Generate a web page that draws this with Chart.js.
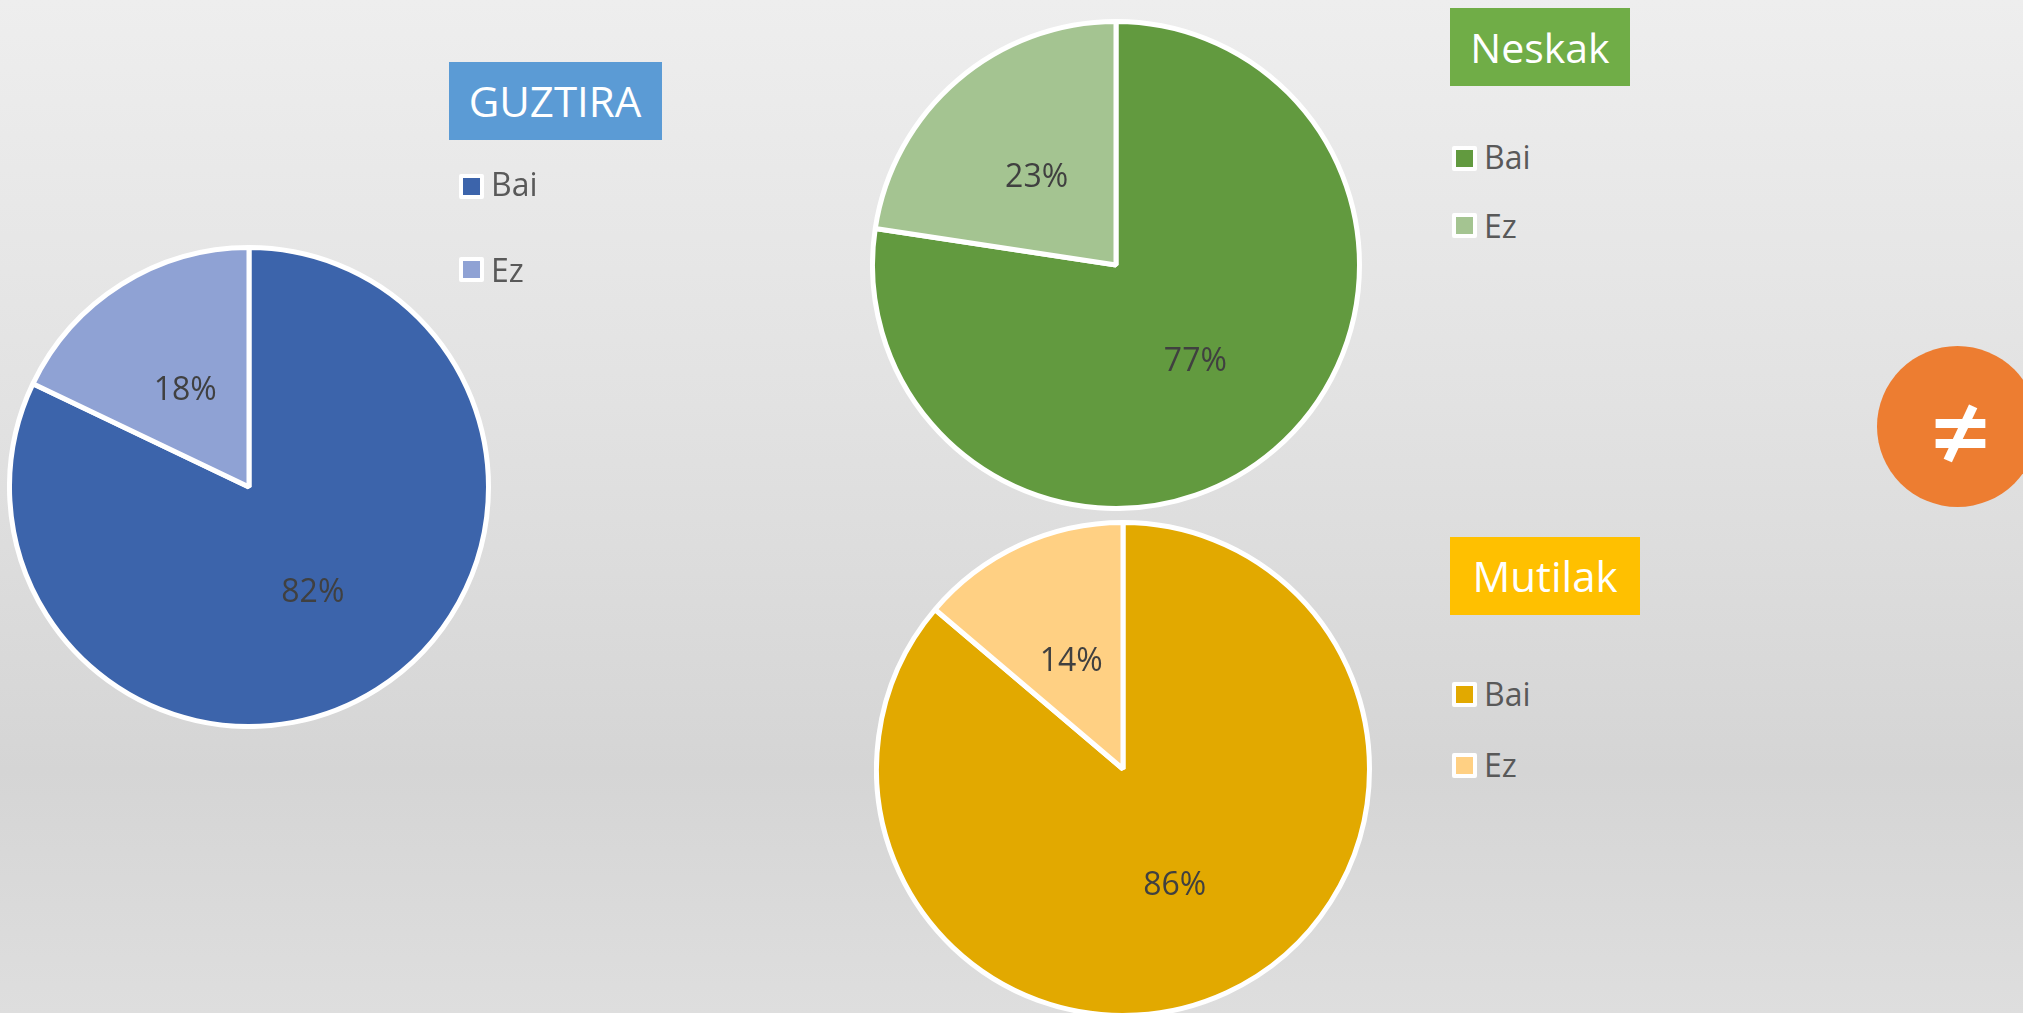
<!DOCTYPE html>
<html><head><meta charset="utf-8">
<script src="https://cdn.jsdelivr.net/npm/chart.js@4"></script>
<style>
html,body{margin:0;padding:0;width:2023px;height:1013px;overflow:hidden}
body{position:relative;background:linear-gradient(180deg,#eeeeee 0%,#e2e2e2 40%,#d5d5d5 76%,#dedede 100%);font-family:"Open Sans",sans-serif}
canvas{position:absolute}
.title{position:absolute;color:#fff;display:flex;align-items:center;justify-content:center;line-height:1}
.sw{position:absolute;width:17px;height:17px;border:4px solid #fff;border-radius:2px}
.lb{position:absolute;color:#595959;font-size:32px;line-height:36px}
#circle{position:absolute;left:1877px;top:346px;width:161px;height:161px;border-radius:50%;background:#ed7d31}
#ne{position:absolute;left:3px;top:3px;width:161px;text-align:center;color:#fff;font:600 104px/161px "Open Sans",sans-serif}
</style></head><body>
<div id="circle"><div id="ne">≠</div></div>
<script>
const categories = ["Bai", "Ez"];
const guztiraValues = [82.1, 17.9];
const neskakValues = [77.4, 22.6];
const mutilakValues = [86.2, 13.8];
const guztiraColors = ["#3c64ab", "#8fa2d4"];
const neskakColors = ["#629a3f", "#a4c491"];
const mutilakColors = ["#e2a900", "#ffd083"];

const labelPlugin = {
  id: "sliceLabels",
  afterDatasetsDraw(chart) {
    const { ctx } = chart;
    const ds = chart.data.datasets[0];
    chart.getDatasetMeta(0).data.forEach((arc, i) => {
      const p = arc.tooltipPosition();
      ctx.save();
      ctx.font = '32px "Open Sans"';
      ctx.fillStyle = "#404040";
      ctx.textAlign = "center";
      ctx.textBaseline = "middle";
      ctx.fillText(Math.round(ds.data[i]) + "%", p.x, p.y + 5);
      ctx.restore();
    });
  }
};

function pie(cx, cy, r, values, colors) {
  const c = document.createElement("canvas");
  const size = 2 * r + 8;
  c.style.left = (cx - size / 2) + "px";
  c.style.top = (cy - size / 2) + "px";
  c.style.width = size + "px";
  c.style.height = size + "px";
  c.width = size; c.height = size;
  document.body.appendChild(c);
  new Chart(c, {
    type: "pie",
    data: { labels: categories, datasets: [{ data: values, backgroundColor: colors, borderColor: "#fff", borderWidth: 5 }] },
    options: { responsive: false, animation: false, events: [], layout: { padding: 0 },
      plugins: { legend: { display: false }, tooltip: { enabled: false } } },
    plugins: [labelPlugin]
  });
}

function title(text, x, y, w, h, color, size, pad) {
  const d = document.createElement("div");
  d.className = "title"; d.textContent = text;
  d.style.cssText = `left:${x}px;top:${y}px;width:${w - pad}px;padding-right:${pad}px;height:${h}px;background:${color};font-size:${size}px`;
  document.body.appendChild(d);
}
function legend(x, ys, colors, tx, tys) {
  categories.forEach((cat, i) => {
    const s = document.createElement("div");
    s.className = "sw";
    s.style.cssText = `left:${x}px;top:${ys[i]}px;background:${colors[i]}`;
    document.body.appendChild(s);
    const l = document.createElement("div");
    l.className = "lb"; l.textContent = cat;
    l.style.cssText = `left:${tx}px;top:${tys[i]}px`;
    document.body.appendChild(l);
  });
}

pie(249, 487, 238, guztiraValues, guztiraColors);
pie(1116, 265, 242, neskakValues, neskakColors);
pie(1122.5, 769, 245, mutilakValues, mutilakColors);
title("GUZTIRA", 449, 62, 213, 78, "#5b9bd5", 42, 1);
title("Neskak", 1450, 8, 180, 78, "#70ad47", 41, 0);
title("Mutilak", 1450, 537, 190, 78, "#ffc000", 42, 0);
legend(459, [174, 257], guztiraColors, 491, [166, 252]);
legend(1452, [146, 213], neskakColors, 1484, [139, 208]);
legend(1452, [682, 753], mutilakColors, 1484, [676, 747]);
</script>
</body></html>
